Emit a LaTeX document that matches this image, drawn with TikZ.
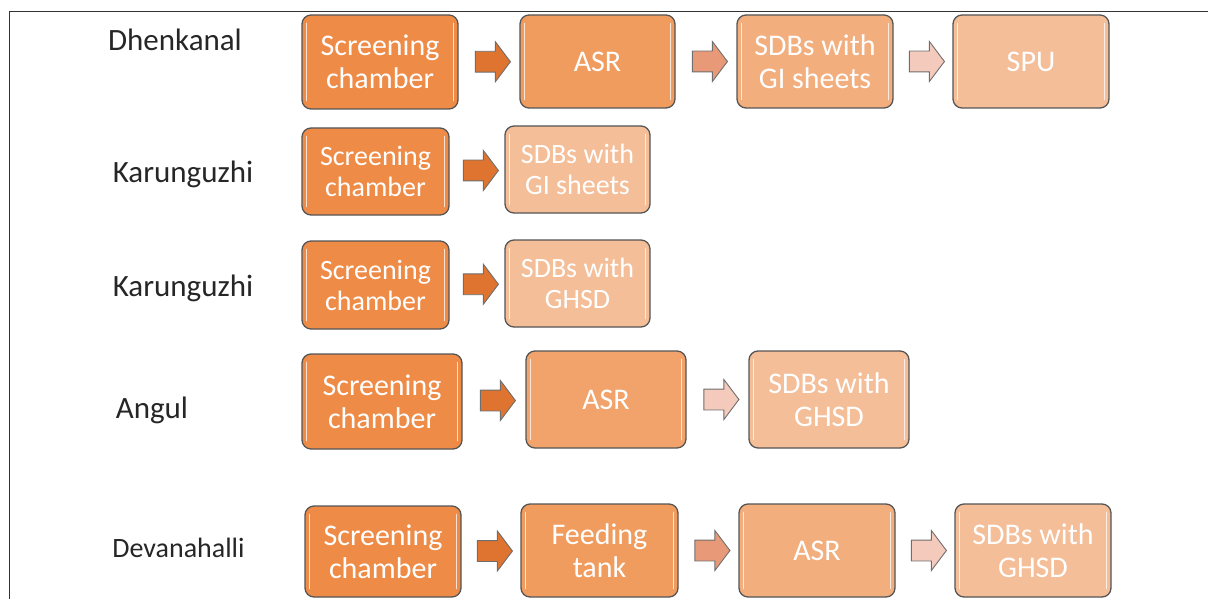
\documentclass[tikz,border=0pt]{standalone}
\usepackage{fontspec}
\setmainfont{Carlito}
\usetikzlibrary{shapes.arrows,calc}

\definecolor{cA}{HTML}{EE8B47}
\definecolor{cB}{HTML}{F09C5E}
\definecolor{cC}{HTML}{F1A36B}
\definecolor{cD}{HTML}{F2AE7D}
\definecolor{cE}{HTML}{F4BE98}
\definecolor{aA}{HTML}{DF7430}
\definecolor{aB}{HTML}{E89A78}
\definecolor{aC}{HTML}{F3CABC}
\definecolor{rim}{HTML}{555555}

\tikzset{
  stage/.style={draw=rim, line width=1.3pt, rounded corners=9pt, text=white,
    align=center, font=\fontsize{30}{33}\selectfont, inner sep=0pt},
  small/.style={font=\fontsize{28}{31}\selectfont},
  site/.style={font=\fontsize{31}{34}\selectfont, text=black!85, anchor=center},
  flow/.style={single arrow, draw=rim!85, line width=0.9pt, inner xsep=0pt,
    inner ysep=10pt, minimum height=35pt, single arrow head extend=9.5pt,
    single arrow tip angle=106, anchor=center},
  gloss/.style={white, opacity=0.75, line width=1.3pt, line cap=round}
}

\newcommand\shine[1]{%
  \draw[gloss] ([xshift=5pt,yshift=-9pt]#1.north west) -- ([xshift=5pt,yshift=9pt]#1.south west);
  \draw[gloss] ([xshift=-5pt,yshift=-9pt]#1.north east) -- ([xshift=-5pt,yshift=9pt]#1.south east);}

\begin{document}
\begin{tikzpicture}[x=1pt,y=-1pt]
\useasboundingbox (0,0) rectangle (1208,599);
\draw[black!80, line width=1pt] (9,599) -- (9,12) -- (1208,12);

% Dhenkanal
\node[site] (l1) at (175,40) {Dhenkanal};
\node[stage, fill=cA, minimum width=156pt, minimum height=94pt] (a1) at (380,62) {Screening\\chamber};
\node[stage, fill=cB, minimum width=155pt, minimum height=93pt] (a2) at (597.5,61.5) {ASR};
\node[stage, fill=cD, minimum width=156pt, minimum height=93pt] (a3) at (815,61.5) {SDBs with\\GI sheets};
\node[stage, fill=cE, minimum width=156pt, minimum height=93pt] (a4) at (1031,61.5) {SPU};
\node[flow, fill=aA] (f11) at ($(a1.east)!0.5!(a2.west)$) {};
\node[flow, fill=aB] (f12) at ($(a2.east)!0.5!(a3.west)$) {};
\node[flow, fill=aC] (f13) at ($(a3.east)!0.5!(a4.west)$) {};

% Karunguzhi, GI sheets
\node[site] (l2) at (183,174) {Karunguzhi};
\node[stage, small, fill=cA, minimum width=147pt, minimum height=87pt] (b1) at (375.5,171.5) {Screening\\chamber};
\node[stage, small, fill=cE, minimum width=145pt, minimum height=87pt] (b2) at (577.5,169.5) {SDBs with\\GI sheets};
\node[flow, fill=aA] (f21) at ($(b1.east)!0.5!(b2.west)$) {};

% Karunguzhi, GHSD
\node[site] (l3) at (183,288) {Karunguzhi};
\node[stage, small, fill=cA, minimum width=147pt, minimum height=88pt] (c1) at (375.5,285) {Screening\\chamber};
\node[stage, small, fill=cE, minimum width=145pt, minimum height=87pt] (c2) at (577.5,283.5) {SDBs with\\GHSD};
\node[flow, fill=aA] (f31) at ($(c1.east)!0.5!(c2.west)$) {};

% Angul
\node[site] (l4) at (152,410) {Angul};
\node[stage, fill=cA, minimum width=160pt, minimum height=95pt] (d1) at (382,401.5) {Screening\\chamber};
\node[stage, fill=cC, minimum width=160pt, minimum height=97pt] (d2) at (606,399.5) {ASR};
\node[stage, fill=cE, minimum width=160pt, minimum height=97pt] (d3) at (829,399.5) {SDBs with\\GHSD};
\node[flow, fill=aA] (f41) at ($(d1.east)!0.5!(d2.west)$) {};
\node[flow, fill=aC] (f42) at ($(d2.east)!0.5!(d3.west)$) {};

% Devanahalli
\node[site, font=\fontsize{28}{31}\selectfont] (l5) at (178.5,548) {Devanahalli};
\node[stage, fill=cA, minimum width=156pt, minimum height=91pt] (e1) at (383,551.5) {Screening\\chamber};
\node[stage, fill=cB, minimum width=157pt, minimum height=93pt] (e2) at (599.5,550.5) {Feeding\\tank};
\node[stage, fill=cD, minimum width=156pt, minimum height=93pt] (e3) at (817,550.5) {ASR};
\node[stage, fill=cE, minimum width=156pt, minimum height=93pt] (e4) at (1033,550.5) {SDBs with\\GHSD};
\node[flow, fill=aA] (f51) at ($(e1.east)!0.5!(e2.west)$) {};
\node[flow, fill=aB] (f52) at ($(e2.east)!0.5!(e3.west)$) {};
\node[flow, fill=aC] (f53) at ($(e3.east)!0.5!(e4.west)$) {};

\foreach \n in {a1,a2,a3,a4,b1,b2,c1,c2,d1,d2,d3,e1,e2,e3,e4} {\shine{\n}}
\end{tikzpicture}
\end{document}
